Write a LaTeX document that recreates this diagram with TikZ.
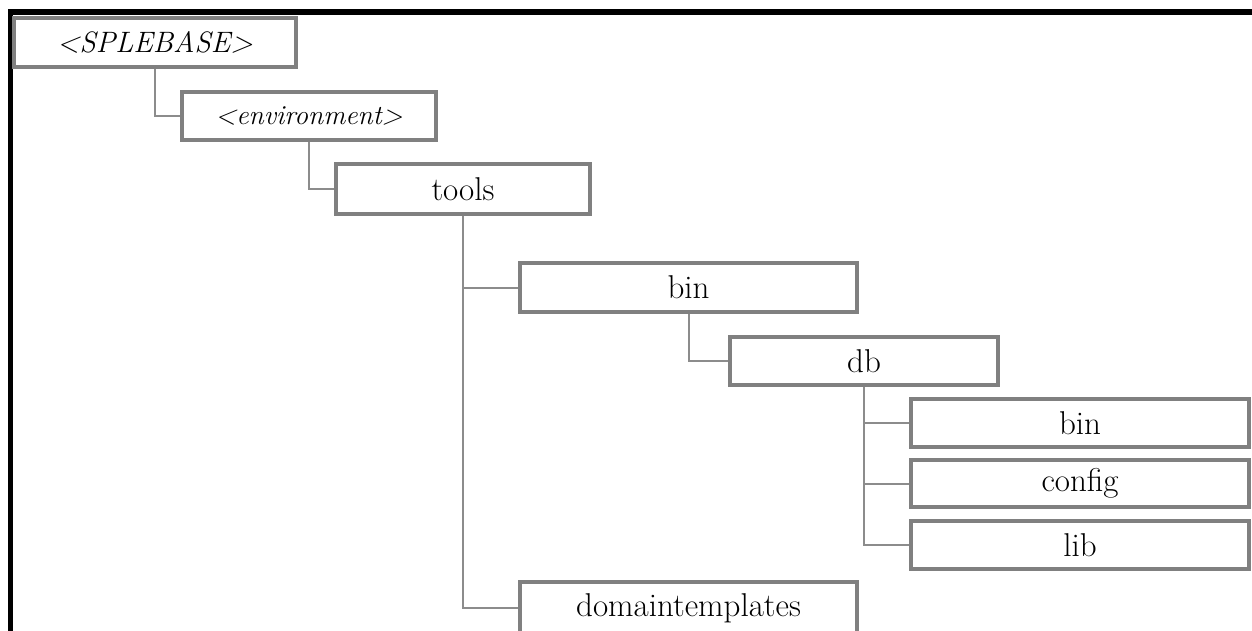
\documentclass[tikz,border=0pt]{standalone}
\usepackage{fontspec}
\definecolor{boxgray}{HTML}{808080}
\definecolor{linegray}{HTML}{8C8C8C}
\tikzset{
  folder/.style={draw=boxgray, line width=3.2pt, fill=white, inner sep=0pt,
    font=\fontsize{33}{38}\selectfont},
  link/.style={draw=linegray, line width=2pt},
  frameline/.style={fill=black}
}
\begin{document}
\begin{tikzpicture}[x=1pt,y=-1pt]
\useasboundingbox (0,0) rectangle (1252,631);
\clip (0,0) rectangle (1252,631);
\fill[white] (0,0) rectangle (1252,631);
% black frame
\fill[frameline] (8,9) rectangle (1252,15);
\fill[frameline] (8,9) rectangle (13,631);
% boxes
\node[folder, minimum width=282pt, minimum height=49pt, font=\fontsize{29.5}{34}\selectfont\itshape] (root) at (155,42.5) {<SPLEBASE>};
\node[folder, minimum width=254pt, minimum height=48pt, font=\fontsize{27.5}{32}\selectfont\itshape] (env) at (309,116) {<environment>};
\node[folder, minimum width=254pt, minimum height=50pt] (tools) at (463,189) {tools};
\node[folder, minimum width=337pt, minimum height=49pt] (bin) at (688.5,287.5) {bin};
\node[folder, minimum width=268pt, minimum height=48pt] (db) at (864,361) {db};
\node[folder, minimum width=338pt, minimum height=48pt] (dbbin) at (1080,423) {bin};
\node[folder, minimum width=338pt, minimum height=47pt] (config) at (1080,483.5) {config};
\node[folder, minimum width=338pt, minimum height=48pt] (lib) at (1080,545) {lib};
\node[folder, minimum width=337pt, minimum height=52pt] (dom) at (688.5,608) {domaintemplates};
% connectors
\draw[link] (root.south) |- (env.west);
\draw[link] (env.south) |- (tools.west);
\draw[link] (tools.south) |- (bin.west);
\draw[link] (tools.south) |- (dom.west);
\draw[link] (bin.south) |- (db.west);
\draw[link] (db.south) |- (dbbin.west);
\draw[link] (db.south) |- (config.west);
\draw[link] (db.south) |- (lib.west);
\end{tikzpicture}
\end{document}
